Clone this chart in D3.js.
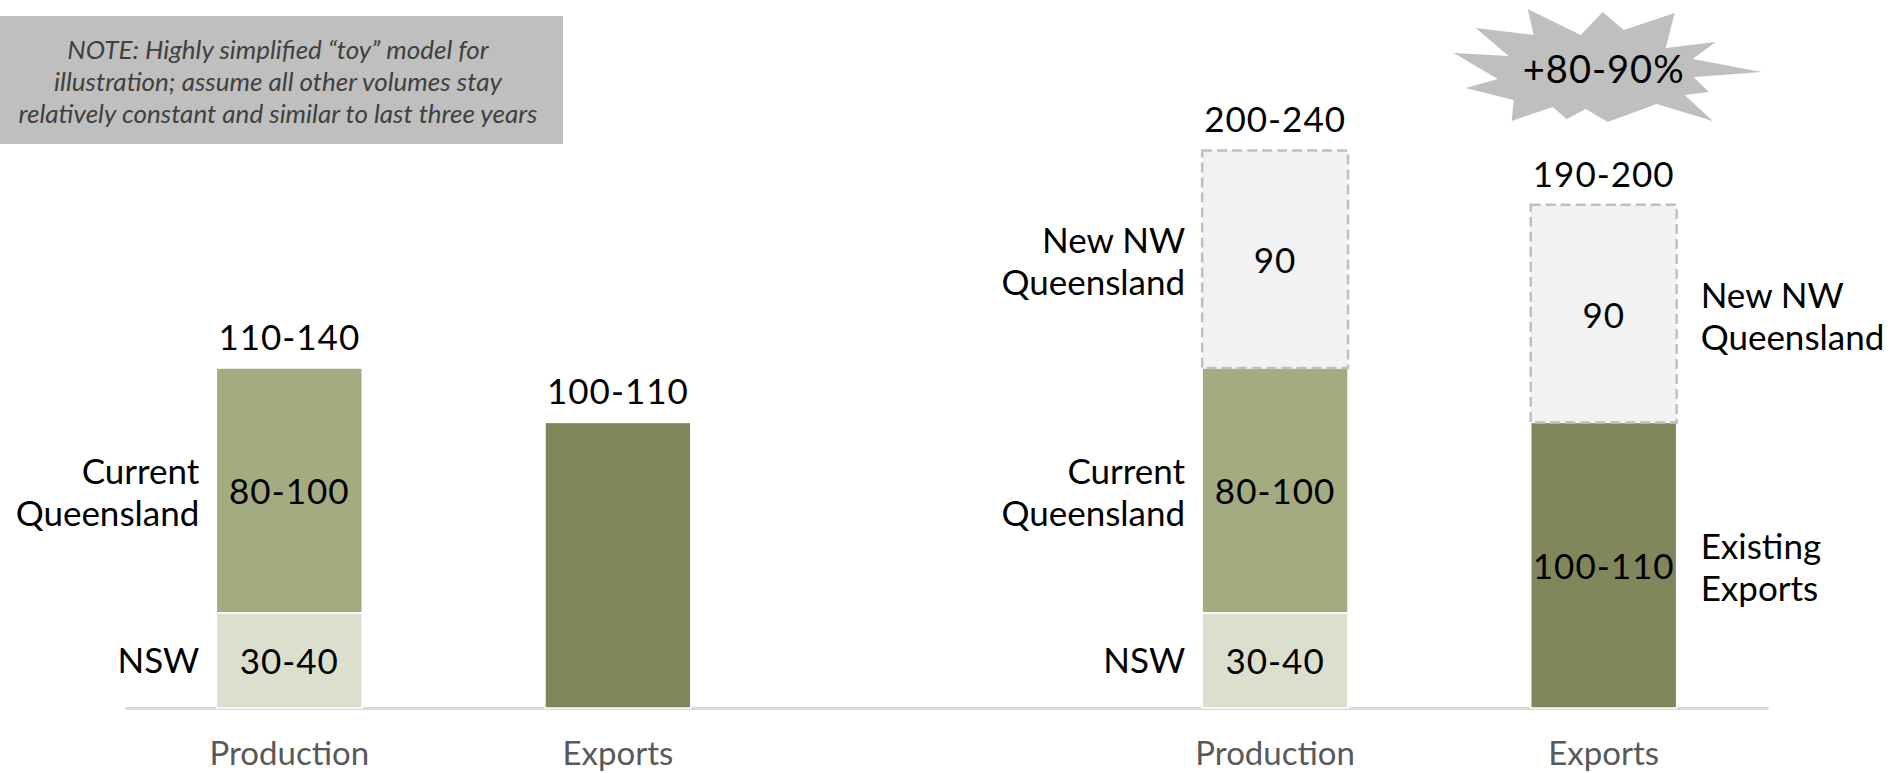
<!DOCTYPE html>
<html>
<head>
<meta charset="utf-8">
<script src="https://cdn.jsdelivr.net/npm/d3@7"></script>
<style>
  body { margin: 0; background: #fff; }
  svg { display: block; }
  text { font-family: Lato, "Open Sans", sans-serif; }
</style>
</head>
<body>
<svg width="1903" height="773"></svg>
<script>
// slots along the x axis; "gap" is the empty space between today and the future
const slots = ["Production", "Exports", "gap", "Production (new)", "Exports (new)"];
const barSlots = ["Production", "Exports", "Production (new)", "Exports (new)"];

// stacked values (midpoints)
const nsw = [35, 0, 35, 0];
const currentQld = [90, 0, 90, 0];
const existingExports = [0, 105, 0, 105];
const newNwQld = [0, 0, 80, 80];

// labels printed on the bars
const totalLabels = ["110-140", "100-110", "200-240", "190-200"];
const nswLabels = ["30-40", "", "30-40", ""];
const currentQldLabels = ["80-100", "", "80-100", ""];
const existingLabels = ["", "", "", "100-110"];
const newNwLabels = ["", "", "90", "90"];

const seriesKeys = ["nsw", "qld", "exp", "nw"];
const seriesNames = [["NSW"], ["Current", "Queensland"], ["Existing", "Exports"], ["New NW", "Queensland"]];
const seriesColors = ["#dcdfcd", "#a4ab81", "#81875a", "#f2f2f2"];
const namesLeftOf = ["Production", "Production (new)"];
const namesRightOf = ["Exports (new)"];

const noteLines = [
  "NOTE: Highly simplified \u201ctoy\u201d model for",
  "illustration; assume all other volumes stay",
  "relatively constant and similar to last three years"
];
const burstText = "+80-90%";
// starburst outline, offsets from its centre
const burstShape = [[-80,-56],[-27,-30],[-5,-53],[16,-35],[67,-52],[58,-17],[108,-23],[85,-6],[154,7],[86,12],
  [101,27],[77,30],[105,56],[49,39],[0,57],[-22,44],[-41,54],[-55,42],[-96,56],[-94,35],[-142,23],[-110,14],
  [-154,-12],[-99,-9],[-132,-37],[-74,-30]];

const labelsByKey = { nsw: nswLabels, qld: currentQldLabels, exp: existingLabels, nw: newNwLabels };
const table = barSlots.map((s, i) => ({
  slot: s, i: i, nsw: nsw[i], qld: currentQld[i], exp: existingExports[i], nw: newNwQld[i]
}));
const stacked = d3.stack().keys(seriesKeys)(table);

const svg = d3.select("svg");
const x = d3.scaleBand().domain(slots).range([125, 1768]).paddingInner(0.556).paddingOuter(0.278);
const y = d3.scaleLinear().domain([0, 250]).range([708, 28]);
const bw = x.bandwidth();
const fs = 35;
const numSpacing = 1;

// note box
svg.append("rect").attr("x", 0).attr("y", 16).attr("width", 563).attr("height", 128).attr("fill", "#bfbfbf");
svg.append("g").selectAll("text").data(noteLines).join("text")
  .attr("x", 278).attr("y", (d, i) => 59 + i * 32)
  .attr("text-anchor", "middle").attr("font-style", "italic").attr("font-size", 26).attr("fill", "#404040")
  .text(d => d);

// axis
const axis = svg.append("g").attr("transform", `translate(0,${y(0)})`)
  .call(d3.axisBottom(x).tickSize(0).tickPadding(34).tickFormat(d => d === "gap" ? "" : d.replace(" (new)", "")));
axis.select(".domain").attr("stroke", "#d9d9d9").attr("stroke-width", 3);
axis.selectAll("text").attr("font-size", 33).attr("fill", "#595959").attr("font-family", "Lato, 'Open Sans', sans-serif");

// bars
stacked.forEach((layer, k) => {
  const key = seriesKeys[k];
  const dashed = key === "nw";
  const segs = layer.filter(d => d[1] - d[0] > 0);
  const g = svg.append("g");
  g.selectAll("rect").data(segs).join("rect")
    .attr("x", d => x(d.data.slot))
    .attr("y", d => y(d[1]))
    .attr("width", bw)
    .attr("height", d => y(d[0]) - y(d[1]))
    .attr("fill", seriesColors[k])
    .attr("stroke", dashed ? "#bfbfbf" : "#fff")
    .attr("stroke-width", dashed ? 2.5 : 1.5)
    .attr("stroke-dasharray", dashed ? "10,5" : null);

  // value inside segment
  g.selectAll("text.val").data(segs.filter(d => labelsByKey[key][d.data.i])).join("text")
    .attr("class", "val")
    .attr("x", d => x(d.data.slot) + bw / 2)
    .attr("y", d => (y(d[0]) + y(d[1])) / 2 + 14)
    .attr("text-anchor", "middle").attr("font-size", fs).attr("letter-spacing", numSpacing).attr("fill", "#000")
    .text(d => labelsByKey[key][d.data.i]);

  // series names beside bars
  const named = segs.filter(d => namesLeftOf.includes(d.data.slot) || namesRightOf.includes(d.data.slot));
  named.forEach(d => {
    const left = namesLeftOf.includes(d.data.slot);
    const mid = (y(d[0]) + y(d[1])) / 2;
    const lines = seriesNames[k];
    const t = g.append("text")
      .attr("x", left ? x(d.data.slot) - 17 : x(d.data.slot) + bw + 24)
      .attr("text-anchor", left ? "end" : "start")
      .attr("font-size", fs).attr("fill", "#000");
    lines.forEach((ln, j) => {
      t.append("tspan").attr("x", t.attr("x"))
        .attr("y", lines.length === 1 ? mid + 13 : mid - 6 + j * 42)
        .text(ln);
    });
  });
});

// totals above bars
svg.append("g").selectAll("text").data(stacked[stacked.length - 1]).join("text")
  .attr("x", d => x(d.data.slot) + bw / 2)
  .attr("y", d => y(d[1]) - 18)
  .attr("text-anchor", "middle").attr("font-size", fs).attr("letter-spacing", numSpacing).attr("fill", "#000")
  .text(d => totalLabels[d.data.i]);

// starburst callout
const burst = svg.append("g").attr("transform", `translate(${x("Exports (new)") + bw / 2 + 4},65)`);
burst.append("path").attr("d", d3.line().curve(d3.curveLinearClosed)(burstShape)).attr("fill", "#bfbfbf");
burst.append("text").attr("x", -4).attr("y", 18).attr("text-anchor", "middle")
  .attr("font-size", 38).attr("letter-spacing", 1).attr("fill", "#000").text(burstText);
</script>
</body>
</html>
